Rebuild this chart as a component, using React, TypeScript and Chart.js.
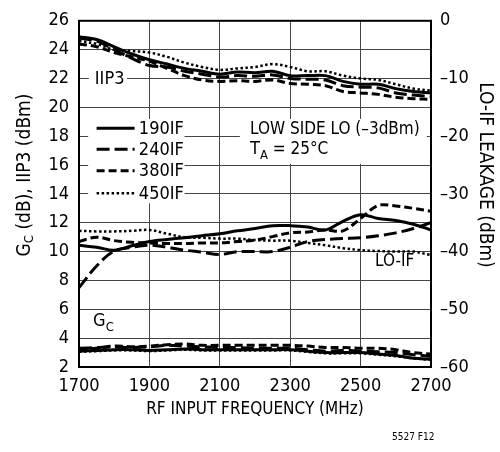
import React, { useEffect, useRef } from 'react';
import { Chart, registerables } from 'chart.js';

Chart.register(...registerables);

// RF input frequency (MHz)
const FREQ_MHZ = [1700, 1750, 1800, 1850, 1900, 1950, 2000, 2050, 2100, 2150, 2200, 2250, 2300, 2350, 2400, 2450, 2500, 2550, 2600, 2650, 2700];

// IIP3 (dBm), left axis
const IIP3_190IF = [24.9, 24.7, 24.2, 23.7, 23.3, 23.0, 22.7, 22.5, 22.3, 22.45, 22.4, 22.5, 22.2, 22.2, 22.2, 21.8, 21.6, 21.6, 21.3, 21.1, 21.0];
const IIP3_240IF = [24.8, 24.6, 24.0, 23.4, 22.9, 22.8, 22.5, 22.3, 22.1, 22.2, 22.15, 22.25, 22.0, 21.95, 21.9, 21.5, 21.4, 21.35, 21.0, 20.85, 20.75];
const IIP3_380IF = [24.4, 24.2, 23.8, 23.5, 23.2, 22.7, 22.2, 21.9, 21.8, 21.85, 21.8, 21.9, 21.65, 21.6, 21.5, 21.1, 21.0, 20.9, 20.7, 20.6, 20.55];
const IIP3_450IF = [24.6, 24.4, 24.0, 23.9, 23.8, 23.5, 23.1, 22.8, 22.6, 22.7, 22.8, 23.0, 22.8, 22.5, 22.5, 22.2, 22.0, 21.9, 21.6, 21.3, 21.15];

// Conversion gain Gc (dB), left axis
const GC_190IF = [3.1, 3.15, 3.2, 3.2, 3.15, 3.2, 3.25, 3.2, 3.2, 3.2, 3.2, 3.2, 3.2, 3.1, 3.0, 3.0, 3.0, 2.9, 2.8, 2.6, 2.55];
const GC_240IF = [3.3, 3.35, 3.4, 3.35, 3.4, 3.5, 3.45, 3.4, 3.35, 3.35, 3.3, 3.3, 3.3, 3.2, 3.1, 3.15, 3.1, 3.05, 3.0, 2.85, 2.75];
const GC_380IF = [3.2, 3.3, 3.45, 3.4, 3.45, 3.55, 3.6, 3.5, 3.5, 3.5, 3.5, 3.5, 3.5, 3.45, 3.35, 3.35, 3.3, 3.3, 3.2, 3.0, 2.9];
const GC_450IF = [3.05, 3.1, 3.15, 3.15, 3.1, 3.15, 3.2, 3.15, 3.15, 3.15, 3.15, 3.15, 3.15, 3.05, 2.95, 2.95, 2.95, 2.85, 2.75, 2.6, 2.5];

// LO-IF leakage (dBm), right axis
const LOIF_190IF = [-38.9, -39.25, -39.75, -39.0, -38.25, -37.9, -37.6, -37.25, -36.9, -36.4, -36.0, -35.5, -35.5, -35.75, -36.25, -34.75, -33.6, -34.25, -34.6, -35.25, -36.25];
const LOIF_240IF = [-46.25, -42.5, -39.9, -39.25, -38.9, -39.25, -39.75, -40.1, -40.5, -40.0, -40.0, -40.0, -39.25, -38.25, -37.9, -37.75, -37.6, -37.25, -36.75, -36.0, -35.0];
const LOIF_380IF = [-38.25, -37.5, -38.1, -38.4, -38.5, -38.6, -38.6, -38.5, -38.5, -38.25, -38.0, -37.4, -36.75, -36.6, -36.25, -36.4, -34.25, -32.0, -32.1, -32.5, -33.0];
const LOIF_450IF = [-36.4, -36.5, -36.5, -36.4, -36.25, -36.9, -37.5, -37.6, -37.75, -37.75, -38.0, -38.1, -38.1, -38.5, -38.9, -39.4, -39.75, -39.9, -40.0, -40.0, -40.6];

const IF_LABELS = ['190IF', '240IF', '380IF', '450IF'];

const FONT = '"Liberation Sans Narrow", "Arial Narrow", "DejaVu Sans Condensed", sans-serif';

const STYLES = [
  { dash: [] as number[], width: 3 },
  { dash: [13, 5], width: 3 },
  { dash: [8, 4], width: 3 },
  { dash: [2.5, 2.5], width: 2.5 },
];

const pts = (ys: number[]) => FREQ_MHZ.map((f, i) => ({ x: f, y: ys[i] }));

function mkSet(ys: number[], styleIdx: number, axis: string, label: string) {
  const s = STYLES[styleIdx];
  return {
    label,
    data: pts(ys),
    yAxisID: axis,
    borderColor: '#000',
    backgroundColor: '#000',
    borderWidth: s.width,
    borderDash: s.dash,
    pointRadius: 0,
    tension: 0.35,
    fill: false,
  };
}

const annotPlugin = {
  id: 'annot',
  beforeDatasetsDraw(chart: any) {
    const { ctx } = chart;
    const xs = chart.scales.x;
    const ys = chart.scales.y;
    const X = (v: number) => xs.getPixelForValue(v);
    const Y = (v: number) => ys.getPixelForValue(v);
    ctx.save();
    ctx.fillStyle = '#fff';
    // legend block
    ctx.fillRect(X(1726), Y(19.2), X(2000) - X(1726), Y(13.35) - Y(19.2));
    // condition text block
    ctx.fillRect(X(2157), Y(19.2), X(2688) - X(2157), Y(16.08) - Y(19.2));
    // IIP3 label
    ctx.fillRect(X(1728), Y(22.55), X(1836) - X(1728), Y(21.45) - Y(22.55));
    ctx.restore();
  },
  afterDatasetsDraw(chart: any) {
    const { ctx, chartArea } = chart;
    const xs = chart.scales.x;
    const ys = chart.scales.y;
    const X = (v: number) => xs.getPixelForValue(v);
    const Y = (v: number) => ys.getPixelForValue(v);
    ctx.save();
    // frame
    ctx.strokeStyle = '#000';
    ctx.lineWidth = 2;
    ctx.setLineDash([]);
    ctx.strokeRect(chartArea.left, chartArea.top, chartArea.right - chartArea.left, chartArea.bottom - chartArea.top);

    ctx.fillStyle = '#000';
    ctx.textBaseline = 'middle';
    ctx.textAlign = 'left';
    ctx.font = `18px ${FONT}`;

    // legend
    const rows = [18.55, 17.1, 15.6, 14.05];
    rows.forEach((r, i) => {
      const s = STYLES[i];
      ctx.beginPath();
      ctx.lineWidth = s.width;
      ctx.setLineDash(s.dash);
      ctx.moveTo(X(1750), Y(r));
      ctx.lineTo(X(1858), Y(r));
      ctx.stroke();
      ctx.setLineDash([]);
      ctx.fillText(IF_LABELS[i], X(1870), Y(r) + 1);
    });

    // conditions
    ctx.font = `17px ${FONT}`;
    ctx.fillText('LOW SIDE LO (\u20133dBm)', X(2186), Y(18.45));
    ctx.font = `18px ${FONT}`;
    ctx.fillText('T', X(2186), Y(17.1));
    const tw = ctx.measureText('T').width;
    ctx.font = `13px ${FONT}`;
    ctx.fillText('A', X(2186) + tw, Y(17.1) + 6);
    const aw = ctx.measureText('A').width;
    ctx.font = `17px ${FONT}`;
    ctx.fillText(' = 25\u00B0C', X(2186) + tw + aw, Y(17.1));

    // curve labels
    ctx.font = `18px ${FONT}`;
    ctx.fillText('IIP3', X(1745), Y(22) + 1);
    ctx.font = `17px ${FONT}`;
    ctx.fillText('LO-IF', X(2541), Y(9.3));
    ctx.font = `18px ${FONT}`;
    ctx.fillText('G', X(1740), Y(5.15));
    const gw = ctx.measureText('G').width;
    ctx.font = `13px ${FONT}`;
    ctx.fillText('C', X(1740) + gw, Y(5.15) + 6);

    // axis titles
    ctx.font = `17px ${FONT}`;
    ctx.textAlign = 'center';
    ctx.fillText('RF INPUT FREQUENCY (MHz)', (chartArea.left + chartArea.right) / 2, 410);

    // left title (rotated, with subscript)
    ctx.save();
    ctx.translate(25, 175);
    ctx.rotate(-Math.PI / 2);
    ctx.textAlign = 'left';
    const p1 = 'G';
    const p2 = 'C';
    const p3 = ' (dB), IIP3 (dBm)';
    ctx.font = `19px ${FONT}`;
    const w1 = ctx.measureText(p1).width;
    const w3 = ctx.measureText(p3).width;
    ctx.font = `13px ${FONT}`;
    const w2 = ctx.measureText(p2).width;
    const total = w1 + w2 + w3;
    let cx = -total / 2;
    ctx.font = `19px ${FONT}`;
    ctx.fillText(p1, cx, 0);
    cx += w1;
    ctx.font = `13px ${FONT}`;
    ctx.fillText(p2, cx, 5);
    cx += w2;
    ctx.font = `19px ${FONT}`;
    ctx.fillText(p3, cx, 0);
    ctx.restore();

    // right title
    ctx.save();
    ctx.translate(485, 175);
    ctx.rotate(Math.PI / 2);
    ctx.textAlign = 'center';
    ctx.font = `19px ${FONT}`;
    ctx.fillText('LO-IF LEAKAGE (dBm)', 0, 0);
    ctx.restore();

    // figure id
    ctx.font = `10px ${FONT}`;
    ctx.textAlign = 'left';
    ctx.fillText('5527 F12', 392, 437);
    ctx.restore();
  },
};

export default function App() {
  const ref = useRef<HTMLCanvasElement | null>(null);
  useEffect(() => {
    if (!ref.current) return;
    const datasets = [
      mkSet(IIP3_190IF, 0, 'y', 'IIP3 190IF'),
      mkSet(IIP3_240IF, 1, 'y', 'IIP3 240IF'),
      mkSet(IIP3_380IF, 2, 'y', 'IIP3 380IF'),
      mkSet(IIP3_450IF, 3, 'y', 'IIP3 450IF'),
      mkSet(GC_190IF, 0, 'y', 'Gc 190IF'),
      mkSet(GC_240IF, 1, 'y', 'Gc 240IF'),
      mkSet(GC_380IF, 2, 'y', 'Gc 380IF'),
      mkSet(GC_450IF, 3, 'y', 'Gc 450IF'),
      mkSet(LOIF_190IF, 0, 'y1', 'LO-IF 190IF'),
      mkSet(LOIF_240IF, 1, 'y1', 'LO-IF 240IF'),
      mkSet(LOIF_380IF, 2, 'y1', 'LO-IF 380IF'),
      mkSet(LOIF_450IF, 3, 'y1', 'LO-IF 450IF'),
    ];
    const tickFont = { family: FONT, size: 18 };
    const chart = new Chart(ref.current, {
      type: 'line',
      data: { datasets },
      plugins: [annotPlugin],
      options: {
        responsive: false,
        animation: false,
        devicePixelRatio: 1,
        layout: { padding: { top: 16, left: 0, right: 0, bottom: 0 } },
        plugins: { legend: { display: false }, tooltip: { enabled: false } },
        scales: {
          x: {
            type: 'linear',
            min: 1700,
            max: 2700,
            afterFit: (s: any) => { s.height = 85; },
            ticks: { stepSize: 200, color: '#000', font: tickFont, padding: 9, maxRotation: 0, callback: (v: any) => String(v) },
            grid: { color: '#444', lineWidth: 1, drawTicks: false },
            border: { display: false },
          },
          y: {
            position: 'left',
            min: 2,
            max: 26,
            afterFit: (s: any) => { s.width = 79; },
            ticks: { stepSize: 2, color: '#000', font: tickFont, padding: 10 },
            grid: { color: '#444', lineWidth: 1, drawTicks: false },
            border: { display: false },
          },
          y1: {
            position: 'right',
            min: -60,
            max: 0,
            afterFit: (s: any) => { s.width = 69; },
            ticks: {
              stepSize: 10,
              color: '#000',
              font: tickFont,
              padding: 9,
              callback: (v: any) => (v === 0 ? '0' : '\u2013' + Math.abs(v)),
            },
            grid: { display: false, drawTicks: false },
            border: { display: false },
          },
        },
      },
    } as any);
    return () => chart.destroy();
  }, []);
  return (
    <div style={{ position: 'absolute', left: 0, top: 0, width: 500, height: 452, background: '#fff' }}>
      <canvas ref={ref} width={500} height={452} style={{ width: 500, height: 452 }} />
    </div>
  );
}
